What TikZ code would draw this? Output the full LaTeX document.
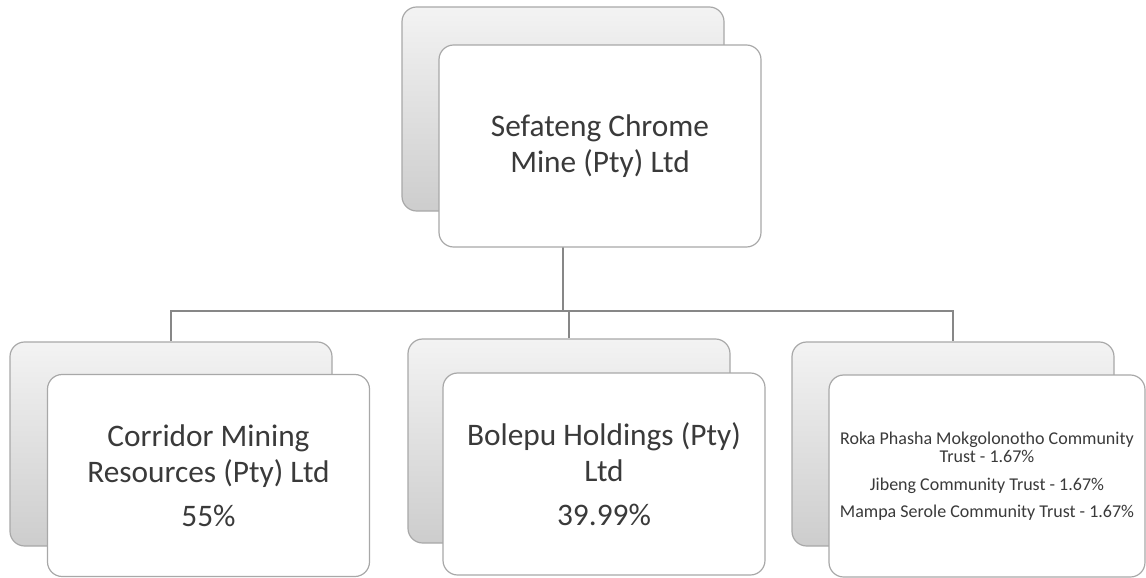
\documentclass[tikz,border=0pt]{standalone}
\usepackage{fontspec}
\setmainfont{Carlito}
\usetikzlibrary{backgrounds}
\definecolor{linegray}{HTML}{878787}
\definecolor{txt}{HTML}{3A3A3A}
\definecolor{backtop}{HTML}{F3F3F3}
\definecolor{backbot}{HTML}{CDCDCD}
\definecolor{edge}{HTML}{A8A8A8}
\begin{document}
\begin{tikzpicture}[x=0.75pt,y=-0.75pt,
  backbox/.style={draw=edge, line width=0.9pt, rounded corners=11pt,
    top color=backtop, bottom color=backbot,
    minimum width=241.5pt, minimum height=153pt, inner sep=0pt},
  frontbox/.style={draw=edge, line width=0.9pt, rounded corners=11pt,
    fill=white, minimum width=241.5pt, minimum height=151.5pt,
    align=center, text=txt, font=\fontsize{23.5}{27}\selectfont, inner sep=0pt},
  smalltext/.style={font=\fontsize{13.5}{14}\selectfont},
  conn/.style={draw=linegray, line width=2.2pt}]
\useasboundingbox (0,0) rectangle (1146,578);

\node[backbox] (topback) at (563,109) {};
\node[frontbox] (top) at (600,146) {Sefateng Chrome\\Mine (Pty) Ltd};

\node[backbox] (leftback) at (171,444) {};
\node[frontbox] (left) at (208.5,475.5) {Corridor Mining\\Resources (Pty) Ltd\\[6pt]55\%};

\node[backbox] (midback) at (569,441) {};
\node[frontbox] (mid) at (604,474) {Bolepu Holdings (Pty)\\Ltd\\[6pt]39.99\%};

\node[backbox] (rightback) at (953,444) {};
\node[frontbox, minimum width=237pt, smalltext] (right) at (987,476)
  {Roka Phasha Mokgolonotho Community\\Trust - 1.67\%\\[7pt]Jibeng Community Trust - 1.67\%\\[6pt]Mampa Serole Community Trust - 1.67\%};

\begin{scope}[on background layer]
\coordinate (bus) at (563,311);
\draw[conn] (topback.center) -- (topback.center |- bus);
\draw[conn] (leftback.north) |- (bus) -| (rightback.north);
\draw[conn] (midback.north) -- (midback.north |- bus);
\end{scope}
\end{tikzpicture}
\end{document}
